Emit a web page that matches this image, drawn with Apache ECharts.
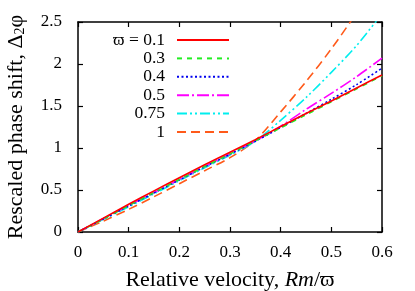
<!DOCTYPE html>
<html>
<head>
<meta charset="utf-8">
<script src="https://cdn.jsdelivr.net/npm/echarts@6/dist/echarts.min.js"></script>
<style>html,body{margin:0;padding:0;background:#fff}#c{width:415px;height:291px}</style>
</head>
<body>
<div id="c"></div>
<script>
var xValues = [0, 0.05, 0.1, 0.15, 0.2, 0.25, 0.3, 0.35, 0.4, 0.45, 0.5, 0.55, 0.6];
var seriesNames = ['\u03D6 = 0.1', '0.3', '0.4', '0.5', '0.75', '1'];
var w01  = [0, 0.165, 0.33, 0.49, 0.645, 0.80, 0.95, 1.10, 1.255, 1.41, 1.56, 1.715, 1.87];
var w03  = [0, 0.155, 0.315, 0.47, 0.625, 0.78, 0.93, 1.085, 1.24, 1.395, 1.55, 1.705, 1.86];
var w04  = [0, 0.155, 0.31, 0.465, 0.62, 0.775, 0.925, 1.08, 1.245, 1.41, 1.58, 1.755, 1.95];
var w05  = [0, 0.16, 0.315, 0.47, 0.625, 0.78, 0.93, 1.085, 1.26, 1.46, 1.65, 1.85, 2.07];
var w075 = [0, 0.15, 0.30, 0.455, 0.61, 0.765, 0.915, 1.08, 1.33, 1.60, 1.90, 2.22, 2.60];
var w1   = [0, 0.13, 0.27, 0.42, 0.575, 0.73, 0.885, 1.09, 1.43, 1.79, 2.18, 2.61, 3.05];
var xTicks = [0, 0.1, 0.2, 0.3, 0.4, 0.5, 0.6];
var yTicks = [0, 0.5, 1, 1.5, 2, 2.5];

var allY = [w01, w03, w04, w05, w075, w1];
var colors = ['#ff0000', '#22ee22', '#0000ee', '#ff00ff', '#00eeee', '#ff5a1a'];
var dashes = ['solid', [5, 5], [2, 2.5], [12, 3, 2, 3], [10, 3, 2, 3, 2, 3], [9, 5]];

var font = 'Liberation Serif';
var series = allY.map(function (ys, i) {
  return {
    name: seriesNames[i],
    type: 'line',
    data: xValues.map(function (x, j) { return [x, ys[j]]; }),
    showSymbol: false,
    symbol: 'none',
    smooth: 0.3,
    clip: true,
    color: colors[i],
    lineStyle: { color: colors[i], width: 1.6, type: dashes[i] },
    z: 10 - i
  };
});

var axisLine = { show: true, onZero: false, lineStyle: { color: '#000', width: 1.5 } };
var tick = { show: true, inside: true, length: 5, lineStyle: { color: '#000', width: 1.2 } };

var chart = echarts.init(document.getElementById('c'), null, { renderer: 'canvas' });
chart.setOption({
  animation: false,
  backgroundColor: '#fff',
  grid: { left: 78, right: 33, top: 22, bottom: 59, containLabel: false, outerBoundsMode: 'none' },
  legend: {
    orient: 'vertical',
    align: 'right',
    right: 180,
    top: 26,
    itemWidth: 52,
    itemHeight: 12,
    itemGap: 0.4,
    selectedMode: false,
    data: seriesNames,
    itemStyle: { opacity: 0 },
    textStyle: { fontFamily: font, fontSize: 17.5, color: '#000', padding: [0, 7, 0, 0] }
  },
  xAxis: [{
    type: 'value', position: 'bottom', min: xTicks[0], max: xTicks[xTicks.length - 1], interval: 0.1,
    axisLine: axisLine, axisTick: tick, splitLine: { show: false },
    axisLabel: { fontFamily: font, fontSize: 17, color: '#000', margin: 12 },
    name: 'Relative velocity, {i|Rm}/\u03D6',
    nameLocation: 'middle', nameGap: 37,
    nameTextStyle: { fontFamily: font, fontSize: 22, color: '#000',
      rich: { i: { fontFamily: font, fontSize: 22, fontStyle: 'italic', color: '#000' } } }
  }, {
    type: 'value', position: 'top', min: xTicks[0], max: xTicks[xTicks.length - 1], interval: 0.1,
    axisLine: axisLine, axisTick: tick, axisLabel: { show: false }, splitLine: { show: false }
  }],
  yAxis: [{
    type: 'value', position: 'left', min: yTicks[0], max: yTicks[yTicks.length - 1], interval: 0.5,
    axisLine: axisLine, axisTick: tick, splitLine: { show: false },
    axisLabel: { fontFamily: font, fontSize: 17, color: '#000', margin: 16 },
    name: 'Rescaled phase shift, \u0394{s|2}\u03C6',
    nameLocation: 'middle', nameGap: 51, nameRotate: 90,
    nameTextStyle: { fontFamily: font, fontSize: 22, color: '#000',
      rich: { s: { fontFamily: font, fontSize: 14, color: '#000', verticalAlign: 'bottom', padding: [8, 0, 0, 0] } } }
  }, {
    type: 'value', position: 'right', min: yTicks[0], max: yTicks[yTicks.length - 1], interval: 0.5,
    axisLine: axisLine, axisTick: tick, axisLabel: { show: false }, splitLine: { show: false }
  }],
  series: series
});
</script>
</body>
</html>
